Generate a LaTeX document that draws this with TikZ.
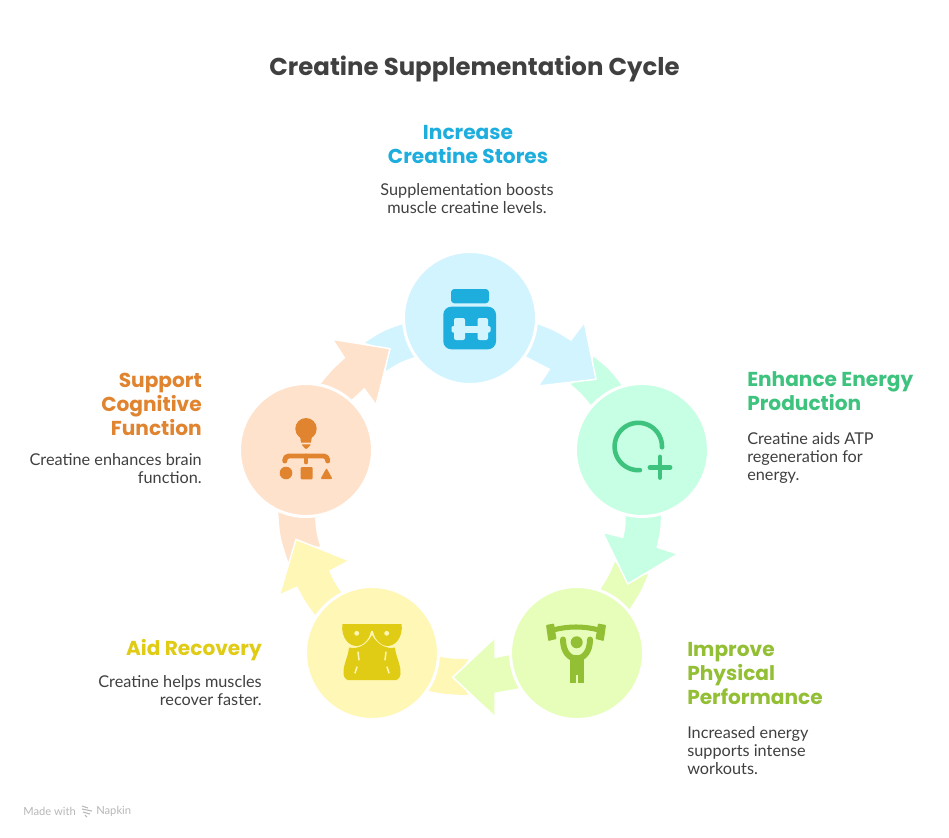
\documentclass[tikz,border=0pt]{standalone}
\usepackage{fontspec}
\setmainfont{Lato}
\newfontfamily\headfont{Poppins}
\definecolor{cblue}{HTML}{D2F4FF}\definecolor{iblue}{HTML}{1EAEDE}
\definecolor{cgreen}{HTML}{C6FFE3}\definecolor{igreen}{HTML}{3DC37E}
\definecolor{clime}{HTML}{E7FEBA}\definecolor{ilime}{HTML}{93BF35}
\definecolor{cyel}{HTML}{FFF7B6}\definecolor{iyel}{HTML}{E0CB15}
\definecolor{corg}{HTML}{FFE2CB}\definecolor{iorg}{HTML}{E08430}
\definecolor{ink}{HTML}{404040}
\tikzset{
 disc/.style={circle,draw=white,line width=2.25pt,fill=#1,minimum size=99.75pt,inner sep=0pt},
 flow/.style={fill=#1,draw=white,line width=1.1pt,line join=miter},
 frag/.style={fill=#1},
 headtext/.style={font=\headfont\bfseries\fontsize{15.1pt}{18pt}\selectfont,inner sep=0pt},
 bodytext/.style={font=\fontsize{12.2pt}{13.5pt}\selectfont,text=ink,inner sep=0pt},
}
\begin{document}
\begin{tikzpicture}[x=0.75pt,y=-0.75pt]
\useasboundingbox (0,0) rectangle (949,838);
\fill[white] (0,0) rectangle (949,838);
% anchors of the discs, so that arrows can be drawn under them
\coordinate (bluec) at (470,318);
\coordinate (greenc) at (642,450);
\coordinate (limec) at (577,653);
\coordinate (yelc) at (372,653);
\coordinate (orgc) at (306,450);
% fragments
\fill[frag=cgreen] (593.3,356.7) .. controls (609,369) .. (621.7,385.7) -- (greenc) -- (591.7,405.7) .. controls (582,394) .. (570.7,384) -- (590,375) -- cycle;
\fill[frag=clime] (648.3,574) .. controls (640,593) .. (628.3,610.7) -- (limec) -- (600,590) .. controls (609,576) .. (615,561.7) -- (628,580) -- cycle;
\fill[frag=cyel] (468.3,695) .. controls (448,694.5) .. (428.3,691) -- (yelc) -- (438.3,656.7) .. controls (453,659) .. (468.3,659) -- (458,677) -- cycle;
\fill[frag=corg] (278.3,511.7) .. controls (280,537) .. (288.3,561.7) -- (296,545) -- (320,546.7) .. controls (316,532) .. (315,516.7) -- (orgc) -- cycle;
\fill[frag=cblue] (365,342.7) .. controls (383,331) .. (403.3,324) -- (bluec) -- (415,356.7) .. controls (400,362) .. (386,370.7) -- (388,350) -- cycle;
% arrows
\draw[flow=cblue] (bluec) -- (537.3,323.3) .. controls (555,330) .. (571,340) -- (584.3,322.3) -- (596,379.3) -- (538.3,386) -- (549.3,369.3) .. controls (538,362.5) .. (525,356.7) -- cycle;
\draw[flow=cgreen] (greenc) -- (661.7,514.3) .. controls (661,531) .. (657.3,547.3) -- (677.7,554) -- (627.7,584) -- (602.7,532.3) -- (622.7,537.3) .. controls (625,526) .. (625,515) -- cycle;
\draw[flow=clime] (limec) -- (519.3,689) .. controls (507,692) .. (495,693.3) -- (495,716.7) -- (452.7,677.3) -- (495,637.7) -- (495,657.3) .. controls (503,656) .. (510,654.3) -- cycle;
\draw[flow=cyel] (yelc) -- (316,617.3) .. controls (305,603) .. (296.7,587.3) -- (279.3,595.3) -- (296,539.3) -- (349.3,560.7) -- (330,571) .. controls (335,582) .. (342.3,592.3) -- cycle;
\draw[flow=corg] (orgc) -- (351.7,400.7) -- (364.3,389) -- (376,405) -- (390,348.7) -- (332.3,339.3) -- (344.3,357.7) .. controls (331,370) .. (319.3,384.3) -- cycle;
% discs
\node[disc=cblue] (blue) at (bluec) {};
\node[disc=cgreen] (green) at (greenc) {};
\node[disc=clime] (lime) at (limec) {};
\node[disc=cyel] (yellow) at (yelc) {};
\node[disc=corg] (orange) at (orgc) {};
% blue icon
\fill[iblue,rounded corners=2.5pt] (451,289) rectangle (489,303.3);
\fill[iblue,rounded corners=6pt] (443.3,306.7) rectangle (496,349.3);
\fill[cblue,rounded corners=1.5pt] (454,318) rectangle (465,340);
\fill[cblue,rounded corners=1.5pt] (477.5,318) rectangle (488,340);
\fill[cblue] (462,326) rectangle (480,332.5);
\fill[cblue,rounded corners=1pt] (451.5,326) rectangle (456,332.5);
\fill[cblue,rounded corners=1pt] (486,326) rectangle (490.5,332.5);
% green icon
\draw[igreen,line width=3.4pt,line cap=round,domain=86:362,samples=50,smooth] plot ({638.3+23.7*cos(\x)},{446.5+23.7*sin(\x)});
\draw[igreen,line width=3.6pt,line cap=round] (650,467.3) -- (670,467.3) (660,457) -- (660,477.5);
% lime icon
\fill[ilime,rounded corners=0.6pt] (546,625) -- (554,623.5) -- (556.5,639) -- (548.3,641) -- cycle;
\fill[ilime,rounded corners=0.6pt] (606,625) -- (598,623.5) -- (595.5,639) -- (603.7,641) -- cycle;
\draw[ilime,line width=3.8pt] (553,630) .. controls (568,626) and (584,626) .. (599,630);
\fill[ilime] (576.7,642.3) circle[radius=6];
\draw[ilime,line width=4.5pt,line cap=round] (563,639.5) .. controls (563,665) and (590,665) .. (590,639.5);
\fill[ilime] (569.5,655) rectangle (584,683);
\fill[clime] (576,675) rectangle (577.5,683);
% yellow icon
\fill[iyel] (342.3,624) -- (371.6,624) .. controls (372,640) and (362,646) .. (356.5,646) .. controls (349,646) and (341,638) .. (342.3,624) -- cycle;
\fill[iyel] (372.4,624) -- (401.7,624) .. controls (403,638) and (395,646) .. (387.5,646) .. controls (382,646) and (372,640) .. (372.4,624) -- cycle;
\fill[iyel] (370,624) rectangle (374,631);
\fill[iyel] (349,647.5) .. controls (358,649.5) and (367,645) .. (372,635) .. controls (377,645) and (388,649.5) .. (395,647.5) .. controls (396,658) and (401,664) .. (400.5,674) .. controls (400,678) and (397,681) .. (394,680) -- (350,680) .. controls (347,681) and (344,678) .. (343.5,674) .. controls (343,664) and (348,658) .. (349,647.5) -- cycle;
\fill[cyel] (356.7,633.3) circle[radius=2.4] (386.7,633.3) circle[radius=2.4];
\draw[cyel,line width=1.1pt,line cap=round] (358,652) -- (359,660) (386,652) -- (385,660) (357,667) -- (355,673) (387,667) -- (389,673);
% orange icon
\fill[iorg] (306,428.7) circle[radius=10.7];
\fill[iorg] (300,436) -- (312,436) -- (311,442.5) -- (301,442.5) -- cycle;
\fill[iorg,rounded corners=0.8pt] (301.3,444.3) -- (311.3,444.3) -- (306,449.5) -- cycle;
\draw[iorg,line width=3.7pt,line cap=round,line join=round,rounded corners=3pt] (284.8,461) -- (284.8,456) -- (327.7,456) -- (327.7,461);
\draw[iorg,line width=3.7pt,line cap=round] (306,456) -- (306,462);
\fill[iorg] (286,473) circle[radius=6.3];
\fill[iorg,rounded corners=0.8pt] (300.7,467) rectangle (312.7,479.3);
\fill[iorg,rounded corners=0.8pt] (320.5,479) -- (332.5,479) -- (326.5,468) -- cycle;
% texts
\node[headtext,text=ink,font=\headfont\bfseries\fontsize{18.3pt}{20pt}\selectfont] (title) at (474.5,69) {Creatine Supplementation Cycle};
\node[headtext,text=iblue,align=center] (t1) at (468,145) {Increase\\Creatine Stores};
\node[bodytext,align=center] (b1) at (467,199) {Supplementation boosts\\muscle creatine levels.};
\node[headtext,text=igreen,align=left,anchor=west] (t2) at (747,391) {Enhance Energy\\Production};
\node[bodytext,align=left,anchor=west] (b2) at (747,458) {Creatine aids ATP\\regeneration for\\energy.};
\node[headtext,text=ilime,align=left,anchor=west] (t3) at (687,674) {Improve\\Physical\\Performance};
\node[bodytext,align=left,anchor=west] (b3) at (687,751) {Increased energy\\supports intense\\workouts.};
\node[headtext,text=iyel,align=right,anchor=east] (t4) at (262,650) {Aid Recovery};
\node[bodytext,align=right,anchor=east] (b4) at (262,691) {Creatine helps muscles\\recover faster.};
\node[headtext,text=iorg,align=right,anchor=east] (t5) at (202,404) {Support\\Cognitive\\Function};
\node[bodytext,align=right,anchor=east] (b5) at (202,469) {Creatine enhances brain\\function.};
% footer
\node[font=\fontsize{8.4pt}{10pt}\selectfont,text=black!28,inner sep=0pt,anchor=west] (made) at (23,811) {Made with};
\node[font=\fontsize{8.4pt}{10pt}\selectfont,text=black!28,inner sep=0pt,anchor=west] (napkin) at (96,811) {Napkin};
\draw[black!28,line width=0.8pt] (82,806) -- (88,808) (82,809) -- (92,811) (83,812) -- (90,814) (85,815) -- (87,817);
\end{tikzpicture}
\end{document}
